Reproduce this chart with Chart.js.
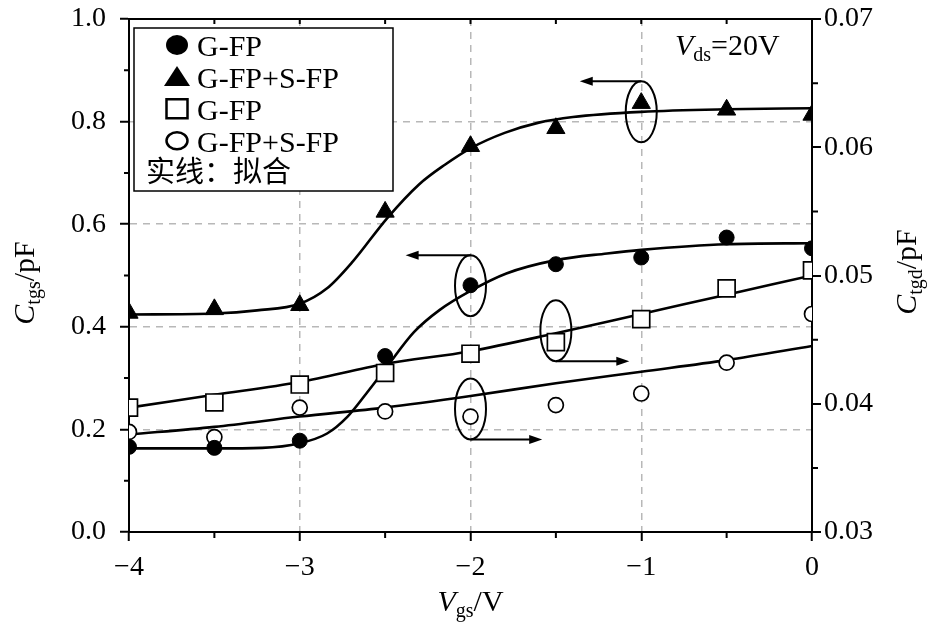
<!DOCTYPE html>
<html>
<head>
<meta charset="utf-8">
<script src="https://cdn.jsdelivr.net/npm/chart.js@4.4.0/dist/chart.umd.min.js"></script>
<style>
	body { margin: 0; background: #fff; }
	canvas { display: block; }
</style>
</head>
<body>
<canvas id="chart" width="932" height="627"></canvas>
<script>
// measured points, Vgs in V
var vgs = [-4, -3.5, -3, -2.5, -2, -1.5, -1, -0.5, 0];
// left axis: Ctgs / pF
var gfpCgs  = [0.166, 0.164, 0.178, 0.343, 0.481, 0.522, 0.535, 0.574, 0.553];
var gsfpCgs = [0.427, 0.434, 0.442, 0.624, 0.752, 0.787, 0.836, 0.823, 0.813];
// right axis: Ctgd / pF
var gfpCgd  = [0.0397, 0.0401, 0.0415, 0.0424, 0.0439, 0.0448, 0.0466, 0.0490, 0.0504];
var gsfpCgd = [0.0378, 0.0374, 0.0397, 0.0394, 0.0390, 0.0399, 0.0408, 0.0432, 0.0470];

// fitted curves (solid lines)
var fitVgs1   = [-4, -3.5, -3.22, -3, -2.84, -2.72, -2.61, -2.49, -2.33, -2.18, -2, -1.79, -1.5, -1.2, -1, -0.5, 0];
var gfpCgsFit = [0.163, 0.163, 0.164, 0.173, 0.192, 0.225, 0.270, 0.322, 0.390, 0.433, 0.470, 0.504, 0.530, 0.543, 0.550, 0.561, 0.563];
var fitVgs2    = [-4, -3.5, -3.25, -3, -2.84, -2.69, -2.49, -2.3, -2.15, -2, -1.8, -1.6, -1.4, -1, -0.5, 0];
var gsfpCgsFit = [0.424, 0.426, 0.432, 0.445, 0.475, 0.527, 0.611, 0.678, 0.716, 0.748, 0.778, 0.798, 0.809, 0.819, 0.824, 0.826];
var fitVgs3    = [-4, -3.5, -3, -2.5, -2, -1.5, -1, -0.5, 0];
var gfpCgdFit  = [0.0397, 0.0407, 0.0417, 0.0431, 0.0441, 0.0455, 0.0470, 0.0485, 0.0500];
var gsfpCgdFit = [0.0376, 0.0382, 0.0390, 0.0397, 0.0406, 0.0416, 0.0425, 0.0434, 0.0445];

// tick values
var xTicks   = [-4, -3, -2, -1, 0];
var cgsTicks = [0, 0.2, 0.4, 0.6, 0.8, 1.0];
var cgdTicks = [0.03, 0.04, 0.05, 0.06, 0.07];

// legend entries
var legendNames = ['G-FP', 'G-FP+S-FP', 'G-FP', 'G-FP+S-FP'];
var legendNote = '实线：拟合';

// circled points with arrows to their axis: [x, y, axis, arrow tip x]
var callouts = [
	[-1, 0.819, 'y', -1.36],
	[-2, 0.480, 'y', -2.38],
	[-1.5, 0.0457, 'y2', -1.07],
	[-2, 0.0396, 'y2', -1.58]
];

var SERIF = "'Liberation Serif', 'Times New Roman', serif";

var pts = function(xs, ys)
{
	return xs.map(function(x, i){ return {x: x, y: ys[i]}; });
}

var setTicks = function(vals)
{
	return function(scale){ scale.ticks = vals.map(function(v){ return {value: v}; }); };
}

// fixed axis size, and no extra padding from label overflow
var fixSize = function(prop, size)
{
	return function(s){
		s[prop] = size;
		s.paddingTop = 0; s.paddingBottom = 0;
		s.paddingLeft = 0; s.paddingRight = 0;
	};
}

var fontOf = function(p)
{
	return (p.italic ? 'italic ' : '') + (p.sub ? '20px ' : '30px ') + SERIF;
}

// text with italic letters and subscripts, centred on x (or left aligned)
var drawRich = function(ctx, parts, x, baseY, left)
{
	var total = 0;
	parts.forEach(function(p){
		ctx.font = fontOf(p);
		p.w = ctx.measureText(p.t).width;
		total += p.w;
	});
	var cur = left ? x : x - total / 2;
	ctx.textAlign = 'left';
	ctx.textBaseline = 'alphabetic';
	parts.forEach(function(p){
		ctx.font = fontOf(p);
		ctx.fillText(p.t, cur, baseY + (p.sub ? 6 : 0));
		cur += p.w;
	});
}

var arrow = function(ctx, x1, y, x2)
{
	var dir = x2 > x1 ? 1 : -1;
	ctx.beginPath();
	ctx.moveTo(x1, y);
	ctx.lineTo(x2 - dir * 8, y);
	ctx.stroke();
	ctx.beginPath();
	ctx.moveTo(x2, y);
	ctx.lineTo(x2 - dir * 13, y - 4.5);
	ctx.lineTo(x2 - dir * 13, y + 4.5);
	ctx.closePath();
	ctx.fill();
}

var decor = {
	id: 'decor',
	afterDraw: function(chart)
	{
		var ctx = chart.ctx, a = chart.chartArea;
		var sx = chart.scales.x, sy = chart.scales.y, sy2 = chart.scales.y2;
		var i, p;
		ctx.save();
		ctx.strokeStyle = '#000';
		ctx.fillStyle = '#000';
		ctx.lineWidth = 2;

		// top frame with inward ticks
		ctx.beginPath();
		ctx.moveTo(a.left - 1, a.top);
		ctx.lineTo(a.right + 1, a.top);
		ctx.stroke();
		ctx.beginPath();
		for (i = 0; i < xTicks.length - 1; i++) {
			[xTicks[i] + 0.5, xTicks[i + 1]].forEach(function(v){
				if (v >= xTicks[xTicks.length - 1]) return;
				p = sx.getPixelForValue(v);
				ctx.moveTo(p, a.top);
				ctx.lineTo(p, a.top + 5);
			});
		}
		// minor ticks, outward
		for (i = 0; i < xTicks.length - 1; i++) {
			p = sx.getPixelForValue((xTicks[i] + xTicks[i + 1]) / 2);
			ctx.moveTo(p, a.bottom);
			ctx.lineTo(p, a.bottom + 6);
		}
		for (i = 0; i < cgsTicks.length - 1; i++) {
			p = sy.getPixelForValue((cgsTicks[i] + cgsTicks[i + 1]) / 2);
			ctx.moveTo(a.left, p);
			ctx.lineTo(a.left - 5, p);
		}
		for (i = 0; i < cgdTicks.length - 1; i++) {
			p = sy2.getPixelForValue((cgdTicks[i] + cgdTicks[i + 1]) / 2);
			ctx.moveTo(a.right, p);
			ctx.lineTo(a.right + 6, p);
		}
		ctx.stroke();

		// circled points and arrows
		callouts.forEach(function(c){
			var cx = sx.getPixelForValue(c[0]);
			var cy = chart.scales[c[2]].getPixelForValue(c[1]);
			var ry = 30.5;
			ctx.beginPath();
			ctx.ellipse(cx, cy, 15.5, ry, 0, 0, Math.PI * 2);
			ctx.stroke();
			var ay = c[2] == 'y' ? cy - ry : cy + ry;
			arrow(ctx, cx, ay, sx.getPixelForValue(c[3]));
		});

		// legend box
		ctx.fillStyle = '#fff';
		ctx.fillRect(134, 28, 259, 163);
		ctx.lineWidth = 1.5;
		ctx.strokeRect(134, 28, 259, 163);
		ctx.fillStyle = '#000';
		ctx.strokeStyle = '#000';
		ctx.lineWidth = 2.5;
		legendNames.forEach(function(name, k){
			var base = 56 + k * 31.9, my = base - 11, mx = 177;
			ctx.beginPath();
			if (k == 0) {
				ctx.ellipse(mx, my, 11, 10, 0, 0, Math.PI * 2);
				ctx.fill();
			} else if (k == 1) {
				ctx.moveTo(mx, my - 11);
				ctx.lineTo(mx + 13, my + 9);
				ctx.lineTo(mx - 13, my + 9);
				ctx.closePath();
				ctx.fill();
			} else if (k == 2) {
				ctx.rect(mx - 10.5, my - 9.5, 21, 19);
				ctx.stroke();
			} else {
				ctx.ellipse(mx, my, 10.5, 8.5, 0, 0, Math.PI * 2);
				ctx.stroke();
			}
			ctx.font = '30px ' + SERIF;
			ctx.textAlign = 'left';
			ctx.textBaseline = 'alphabetic';
			ctx.fillText(name, 197, base);
		});
		ctx.font = "29px 'Noto Sans CJK SC', sans-serif";
		ctx.textBaseline = 'middle';
		ctx.fillText(legendNote, 146, 171);

		// Vds label
		drawRich(ctx, [{t: 'V', italic: true}, {t: 'ds', sub: true}, {t: '=20V'}], 675, 55, true);

		// axis titles
		drawRich(ctx, [{t: 'V', italic: true}, {t: 'gs', sub: true}, {t: '/V'}], (a.left + a.right) / 2, 611);
		ctx.save();
		ctx.translate(34, 283);
		ctx.rotate(-Math.PI / 2);
		drawRich(ctx, [{t: 'C', italic: true}, {t: 'tgs', sub: true}, {t: '/pF'}], 0, 0);
		ctx.restore();
		ctx.save();
		ctx.translate(916, 272);
		ctx.rotate(-Math.PI / 2);
		drawRich(ctx, [{t: 'C', italic: true}, {t: 'tgd', sub: true}, {t: '/pF'}], 0, 0);
		ctx.restore();

		ctx.restore();
	}
};

var tickFont = { family: SERIF, size: 28 };
var dashGrey = '#b8b8b8';

new Chart(document.getElementById('chart'), {
	type: 'scatter',
	data: {
		datasets: [
			{ label: 'G-FP', data: pts(vgs, gfpCgs), yAxisID: 'y', pointStyle: 'circle', pointRadius: 7.5,
			  pointBackgroundColor: '#000', pointBorderColor: '#000', pointBorderWidth: 1 },
			{ label: 'G-FP+S-FP', data: pts(vgs, gsfpCgs), yAxisID: 'y', pointStyle: 'triangle', pointRadius: 10.5,
			  pointBackgroundColor: '#000', pointBorderColor: '#000', pointBorderWidth: 1 },
			{ label: 'G-FP', data: pts(vgs, gfpCgd), yAxisID: 'y2', pointStyle: 'rect', pointRadius: 12,
			  pointBackgroundColor: '#fff', pointBorderColor: '#000', pointBorderWidth: 1.7 },
			{ label: 'G-FP+S-FP', data: pts(vgs, gsfpCgd), yAxisID: 'y2', pointStyle: 'circle', pointRadius: 7.5,
			  pointBackgroundColor: '#fff', pointBorderColor: '#000', pointBorderWidth: 1.7 },
			{ label: 'fit1', data: pts(fitVgs1, gfpCgsFit), yAxisID: 'y', showLine: true, pointRadius: 0,
			  borderColor: '#000', borderWidth: 2.6, cubicInterpolationMode: 'monotone' },
			{ label: 'fit2', data: pts(fitVgs2, gsfpCgsFit), yAxisID: 'y', showLine: true, pointRadius: 0,
			  borderColor: '#000', borderWidth: 2.6, cubicInterpolationMode: 'monotone' },
			{ label: 'fit3', data: pts(fitVgs3, gfpCgdFit), yAxisID: 'y2', showLine: true, pointRadius: 0,
			  borderColor: '#000', borderWidth: 2.6, cubicInterpolationMode: 'monotone' },
			{ label: 'fit4', data: pts(fitVgs3, gsfpCgdFit), yAxisID: 'y2', showLine: true, pointRadius: 0,
			  borderColor: '#000', borderWidth: 2.6, cubicInterpolationMode: 'monotone' }
		]
	},
	options: {
		responsive: false,
		animation: false,
		devicePixelRatio: 1,
		layout: { padding: { top: 19 }, autoPadding: false },
		plugins: { legend: { display: false }, tooltip: { enabled: false } },
		scales: {
			x: {
				type: 'linear', position: 'bottom', min: -4, max: 0,
				afterBuildTicks: setTicks(xTicks),
				afterFit: fixSize('height', 95),
				ticks: {
					font: tickFont, color: '#000', padding: 10, maxRotation: 0,
					callback: function(v){ return v < 0 ? '\u2212' + Math.abs(v) : String(v); }
				},
				grid: {
					color: function(c){ var v = c.tick && c.tick.value; return (v > -4 && v < 0) ? dashGrey : 'rgba(0,0,0,0)'; },
					lineWidth: 1.5, tickColor: '#000', tickWidth: 2, tickLength: 9, tickBorderDash: []
				},
				border: { display: true, color: '#000', width: 2, dash: [7, 6] }
			},
			y: {
				type: 'linear', position: 'left', min: 0, max: 1,
				afterBuildTicks: setTicks(cgsTicks),
				afterFit: fixSize('width', 129),
				ticks: {
					font: tickFont, color: '#000', padding: 14,
					callback: function(v){ return v.toFixed(1); }
				},
				grid: {
					color: function(c){ var v = c.tick && c.tick.value; return (v > 0.01 && v < 0.99) ? dashGrey : 'rgba(0,0,0,0)'; },
					lineWidth: 1.5, tickColor: '#000', tickWidth: 2, tickLength: 9, tickBorderDash: []
				},
				border: { display: true, color: '#000', width: 2, dash: [7, 6] }
			},
			y2: {
				type: 'linear', position: 'right', min: 0.03, max: 0.07,
				afterBuildTicks: setTicks(cgdTicks),
				afterFit: fixSize('width', 120),
				ticks: {
					font: tickFont, color: '#000', padding: 3,
					callback: function(v){ return v.toFixed(2); }
				},
				grid: {
					drawOnChartArea: false,
					color: '#000', lineWidth: 2, tickColor: '#000', tickWidth: 2, tickLength: 9
				},
				border: { display: true, color: '#000', width: 2 }
			}
		}
	},
	plugins: [decor]
});
</script>
</body>
</html>
